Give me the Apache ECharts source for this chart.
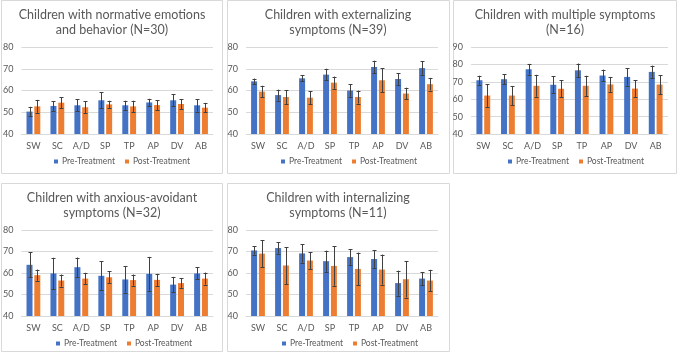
<!DOCTYPE html>
<html>
<head>
<meta charset="utf-8">
<script src="https://cdn.jsdelivr.net/npm/echarts@6/dist/echarts.min.js"></script>
<style>
html, body { margin: 0; padding: 0; background: #fff; }
#main { width: 677px; height: 356px; }
</style>
</head>
<body>
<div id="main"></div>
<script>
var categories = ['SW', 'SC', 'A/D', 'SP', 'TP', 'AP', 'DV', 'AB'];
var seriesNames = ['Pre-Treatment', 'Post-Treatment'];

var titles = [
    'Children with normative emotions\nand behavior (N=30)',
    'Children with externalizing\nsymptoms (N=39)',
    'Children with multiple symptoms\n(N=16)',
    'Children with anxious-avoidant\nsymptoms (N=32)',
    'Children with internalizing\nsymptoms (N=11)'
];

// means and error half-widths
var normPre = [50.3, 52.9, 53.2, 55.5, 53.2, 54.5, 55.5, 53.2];
var normPreErr = [2.2, 2.2, 2.8, 3.7, 2.1, 1.7, 2.8, 2.9];
var normPost = [52.7, 54.4, 52.3, 53.6, 52.7, 53.3, 53.8, 52.1];
var normPostErr = [3.0, 2.6, 2.7, 1.7, 2.6, 2.3, 2.3, 2.2];

var extPre = [64.2, 57.9, 65.6, 67.3, 60.0, 70.8, 65.3, 70.3];
var extPreErr = [1.3, 2.5, 1.3, 2.7, 2.9, 2.9, 2.7, 3.2];
var extPost = [59.5, 57.0, 56.7, 63.6, 57.0, 64.7, 58.6, 62.9];
var extPostErr = [2.7, 3.2, 2.9, 2.8, 3.0, 5.5, 2.7, 2.9];

var multPre = [70.9, 71.5, 77.2, 68.3, 76.6, 73.6, 72.8, 75.7];
var multPreErr = [2.6, 3.0, 3.1, 4.8, 3.9, 3.4, 5.0, 3.6];
var multPost = [62.1, 62.1, 67.7, 66.0, 67.7, 68.5, 66.1, 68.4];
var multPostErr = [6.5, 5.5, 6.3, 4.8, 5.8, 4.3, 4.8, 5.5];

var anxPre = [63.8, 59.8, 62.7, 58.7, 57.0, 59.6, 54.6, 59.8];
var anxPreErr = [5.8, 7.3, 4.5, 6.8, 6.1, 7.9, 3.6, 2.8];
var anxPost = [59.0, 56.5, 57.4, 58.0, 56.7, 56.8, 55.3, 57.4];
var anxPostErr = [2.6, 2.8, 2.7, 2.8, 2.6, 2.8, 2.2, 2.8];

var intPre = [70.5, 71.6, 69.1, 65.5, 67.4, 66.5, 55.3, 57.4];
var intPreErr = [1.9, 2.6, 4.3, 4.9, 3.6, 4.1, 5.8, 3.1];
var intPost = [69.0, 63.5, 65.8, 63.3, 61.9, 61.6, 57.1, 56.5];
var intPostErr = [6.2, 8.6, 3.9, 9.2, 7.6, 7.0, 8.5, 5.0];

var yMin = [40, 40, 40, 40, 40];
var yMax = [80, 80, 90, 80, 80];

var panelData = [
    [normPre, normPreErr, normPost, normPostErr],
    [extPre, extPreErr, extPost, extPostErr],
    [multPre, multPreErr, multPost, multPostErr],
    [anxPre, anxPreErr, anxPost, anxPostErr],
    [intPre, intPreErr, intPost, intPostErr]
];

// panel boxes [x, y, w, h] and plot areas
var boxes = [[1, 0, 221, 173], [227, 0, 222, 173], [453, 0, 223, 173], [1, 183, 221, 168], [227, 183, 222, 168]];
var grids = [
    {left: 21, top: 47, width: 192, height: 87},
    {left: 246, top: 47, width: 192, height: 87},
    {left: 471, top: 47, width: 197, height: 87},
    {left: 21, top: 230, width: 192, height: 86},
    {left: 246, top: 230, width: 192, height: 86}
];
var titlePos = [[112, 8], [338, 8], [565, 8], [112, 191], [338, 191]];
var legendPos = [[54, 157], [281, 157], [508, 157], [56, 339], [282, 339]];

var FONT = 'Lato';
var GRAY = '#595959';
var colors = ['#4472C4', '#ED7D31'];
var BAR_W = 6;
var OFFSET = 3.9;

function errorBar(offset) {
    return function (params, api) {
        var c = api.coord([api.value(0), api.value(1)]);
        var x = Math.round(c[0] + offset) + 0.5;
        var hi = api.coord([api.value(0), api.value(1) + api.value(2)])[1];
        var lo = api.coord([api.value(0), api.value(1) - api.value(2)])[1];
        var style = {stroke: '#404040', lineWidth: 1};
        return {
            type: 'group',
            children: [
                {type: 'line', shape: {x1: x, y1: hi, x2: x, y2: lo}, style: style},
                {type: 'line', shape: {x1: x - 2, y1: Math.round(hi) + 0.5, x2: x + 2, y2: Math.round(hi) + 0.5}, style: style},
                {type: 'line', shape: {x1: x - 2, y1: Math.round(lo) + 0.5, x2: x + 2, y2: Math.round(lo) + 0.5}, style: style}
            ]
        };
    };
}

var option = {
    animation: false,
    backgroundColor: '#fff',
    color: colors,
    textStyle: {fontFamily: FONT},
    title: [],
    legend: [],
    grid: [],
    xAxis: [],
    yAxis: [],
    series: [],
    graphic: []
};

for (var p = 0; p < 5; p++) {
    var b = boxes[p];
    option.graphic.push({
        type: 'rect', z: -1, silent: true,
        shape: {x: b[0] + 0.5, y: b[1] + 0.5, width: b[2], height: b[3]},
        style: {fill: '#fff', stroke: '#d9d9d9', lineWidth: 1}
    });
    option.title.push({
        text: titles[p], left: titlePos[p][0], top: titlePos[p][1], textAlign: 'center',
        padding: 0,
        textStyle: {fontFamily: FONT, fontSize: 12.5, fontWeight: 'normal', color: GRAY, lineHeight: 14.5}
    });
    option.legend.push({
        data: seriesNames, left: legendPos[p][0], top: legendPos[p][1], padding: 0,
        icon: 'rect', itemWidth: 4, itemHeight: 4, itemGap: 10,
        textStyle: {fontFamily: FONT, fontSize: 8.5, color: GRAY, padding: [0, 0, 0, -1]}
    });
    option.grid.push(grids[p]);
    option.xAxis.push({
        type: 'category', gridIndex: p, data: categories,
        axisLine: {lineStyle: {color: '#d9d9d9'}},
        axisTick: {show: false},
        axisLabel: {fontFamily: FONT, fontSize: 9, color: GRAY, margin: 8}
    });
    option.yAxis.push({
        type: 'value', gridIndex: p, min: yMin[p], max: yMax[p], interval: 10,
        axisLine: {show: false},
        axisTick: {show: false},
        splitLine: {lineStyle: {color: '#d9d9d9'}},
        axisLabel: {fontFamily: FONT, fontSize: 9, color: GRAY, margin: 8}
    });
    var d = panelData[p];
    for (var s = 0; s < 2; s++) {
        var vals = d[s * 2];
        var errs = d[s * 2 + 1];
        option.series.push({
            name: seriesNames[s], type: 'bar', xAxisIndex: p, yAxisIndex: p,
            data: vals, barWidth: BAR_W, barGap: '30%',
            itemStyle: {color: colors[s]}
        });
        var errData = [];
        for (var i = 0; i < vals.length; i++) {
            errData.push([i, vals[i], errs[i]]);
        }
        option.series.push({
            type: 'custom', xAxisIndex: p, yAxisIndex: p, z: 5, silent: true,
            renderItem: errorBar(s === 0 ? -OFFSET : OFFSET),
            encode: {x: 0, y: 1},
            data: errData
        });
    }
}

var chart = echarts.init(document.getElementById('main'), null, {renderer: 'canvas'});
chart.setOption(option);
</script>
</body>
</html>
